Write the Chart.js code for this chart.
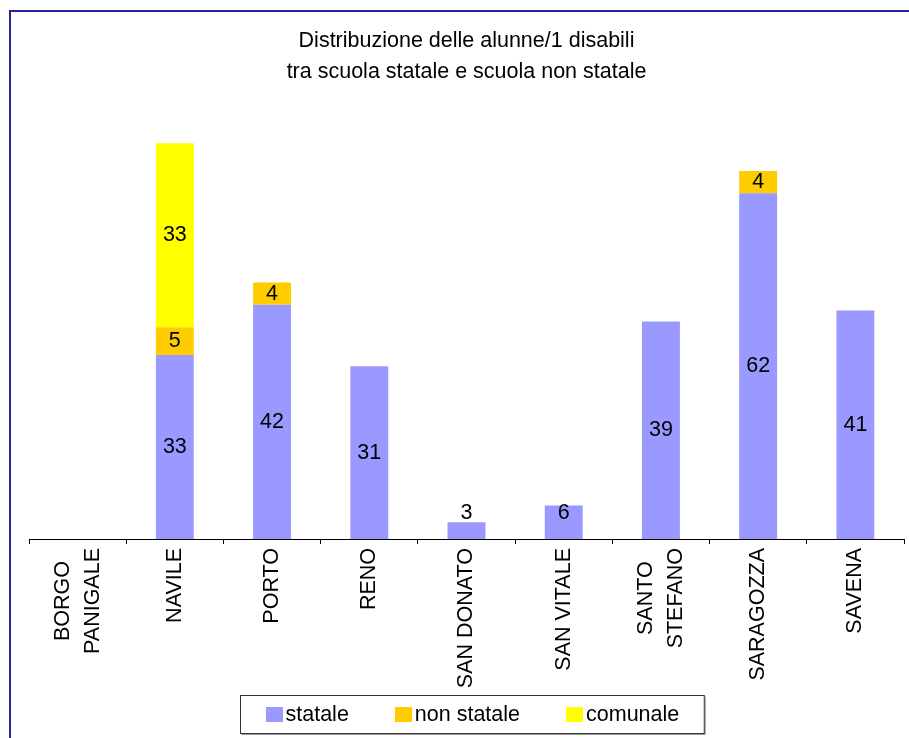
<!DOCTYPE html>
<html lang="it">
<head>
  <meta charset="UTF-8">
  <title>Distribuzione delle alunne/1 disabili</title>
  <script src="https://cdn.jsdelivr.net/npm/chart.js"></script>
  <style>
    html, body { margin: 0; padding: 0; background: #fff; overflow: hidden; }
    #wrap { position: relative; width: 909px; height: 738px; }
    #cornice {
      position: absolute; left: 9px; top: 10px; width: 920px; height: 760px;
      border-top: 2px solid #2424a0; border-left: 2px solid #2424a0;
      pointer-events: none;
    }
  </style>
</head>
<body>
<div id="wrap">
  <canvas id="grafico" width="909" height="738"></canvas>
  <div id="cornice"></div>
</div>

<script>
const categorie = [["BORGO", "PANIGALE"], "NAVILE", "PORTO", "RENO", "SAN DONATO", "SAN VITALE", ["SANTO", "STEFANO"], "SARAGOZZA", "SAVENA"];
const statale    = [null, 33, 42, 31, 3, 6, 39, 62, 41];
const nonStatale = [null, 5, 4, null, null, null, null, 4, null];
const comunale   = [null, 33, null, null, null, null, null, null, null];

const FONT = 'Arial, "Liberation Sans", sans-serif';
const FONT_SIZE = 21.5;

// etichette dei valori dentro i segmenti
const etichette = {
  id: 'etichette',
  afterDatasetsDraw(chart) {
    const ctx = chart.ctx;
    const zero = chart.scales.y.getPixelForValue(0);
    ctx.save();
    ctx.font = FONT_SIZE + 'px ' + FONT;
    ctx.fillStyle = '#000';
    ctx.textAlign = 'center';
    ctx.textBaseline = 'middle';
    chart.data.datasets.forEach((ds, i) => {
      const meta = chart.getDatasetMeta(i);
      meta.data.forEach((bar, j) => {
        const v = ds.data[j];
        if (!v) return;
        let y = (bar.y + bar.base) / 2;
        y = Math.min(y, zero - 26);
        ctx.fillText(String(v), bar.x, y);
      });
    });
    ctx.restore();
  }
};

// nomi dei quartieri ruotati, righe centrate fra loro
const nomiAsse = {
  id: 'nomiAsse',
  afterDraw(chart) {
    const ctx = chart.ctx;
    const sx = chart.scales.x;
    const top = sx.top + 5 + 4;
    ctx.save();
    ctx.font = FONT_SIZE + 'px ' + FONT;
    ctx.fillStyle = '#000';
    ctx.textAlign = 'center';
    ctx.textBaseline = 'middle';
    chart.data.labels.forEach((lab, i) => {
      const righe = Array.isArray(lab) ? lab : [lab];
      const W = Math.max(...righe.map(r => ctx.measureText(r).width));
      const x = sx.getPixelForTick(i);
      righe.forEach((r, k) => {
        const dx = (k - (righe.length - 1) / 2) * 30;
        ctx.save();
        ctx.translate(x + dx, top + W / 2);
        ctx.rotate(-Math.PI / 2);
        ctx.fillText(r, 0, 0);
        ctx.restore();
      });
    });
    ctx.restore();
  }
};

// legenda con cornice, in basso
const legenda = {
  id: 'legenda',
  afterDraw(chart) {
    const ctx = chart.ctx;
    const ca = chart.chartArea;
    ctx.save();
    ctx.font = FONT_SIZE + 'px ' + FONT;
    const box = 17, gap = 3, spazio = 46, pad = 25;
    const items = chart.data.datasets.map(ds => ({ testo: ds.label, colore: ds.backgroundColor, w: ctx.measureText(ds.label).width }));
    let tot = 0;
    items.forEach((it, k) => { tot += box + gap + it.w + (k < items.length - 1 ? spazio : 0); });
    const larg = tot + pad * 2;
    const cx = (ca.left + ca.right) / 2 + 5;
    const left = Math.round(cx - larg / 2) + 0.5;
    const top = chart.height - 43 + 0.5;
    const alt = 38;
    ctx.fillStyle = '#fff';
    ctx.fillRect(left, top, larg, alt);
    ctx.strokeStyle = '#999';
    ctx.lineWidth = 1;
    ctx.beginPath();
    ctx.moveTo(left + larg + 1, top + 1);
    ctx.lineTo(left + larg + 1, top + alt + 1);
    ctx.lineTo(left + 1, top + alt + 1);
    ctx.stroke();
    ctx.strokeStyle = '#333';
    ctx.strokeRect(left, top, larg, alt);
    let x = left + pad;
    ctx.textBaseline = 'middle';
    ctx.textAlign = 'left';
    items.forEach(it => {
      ctx.fillStyle = it.colore;
      ctx.fillRect(Math.round(x), Math.round(top + 11.5), box, 15);
      ctx.fillStyle = '#000';
      ctx.fillText(it.testo, x + box + gap, top + 20);
      x += box + gap + it.w + spazio;
    });
    ctx.restore();
  }
};

new Chart(document.getElementById('grafico'), {
  type: 'bar',
  data: {
    labels: categorie,
    datasets: [
      { label: 'statale', data: statale, backgroundColor: '#9999FF' },
      { label: 'non statale', data: nonStatale, backgroundColor: '#FFCC00' },
      { label: 'comunale', data: comunale, backgroundColor: '#FFFF00' }
    ]
  },
  options: {
    responsive: false,
    animation: false,
    devicePixelRatio: 1,
    layout: { padding: { left: 29, right: 5, top: 0, bottom: 0 } },
    datasets: { bar: { categoryPercentage: 1, barPercentage: 0.39 } },
    scales: {
      x: {
        stacked: true,
        grid: { offset: true, drawOnChartArea: false, drawTicks: true, tickLength: 5, color: '#000', lineWidth: 1 },
        border: { display: true, color: '#000', width: 1 },
        ticks: { display: false },
        afterFit(scale) { scale.height = 199; }
      },
      y: { stacked: true, display: false, min: 0, max: 80 }
    },
    plugins: {
      legend: { display: false },
      tooltip: { enabled: false },
      title: {
        display: true,
        text: ['Distribuzione delle alunne/1 disabili', 'tra scuola statale e scuola non statale'],
        color: '#000',
        font: { family: FONT, size: FONT_SIZE, weight: 'normal', lineHeight: 31 / FONT_SIZE },
        padding: { top: 26, bottom: 5 }
      }
    }
  },
  plugins: [etichette, nomiAsse, legenda]
});
</script>
</body>
</html>
